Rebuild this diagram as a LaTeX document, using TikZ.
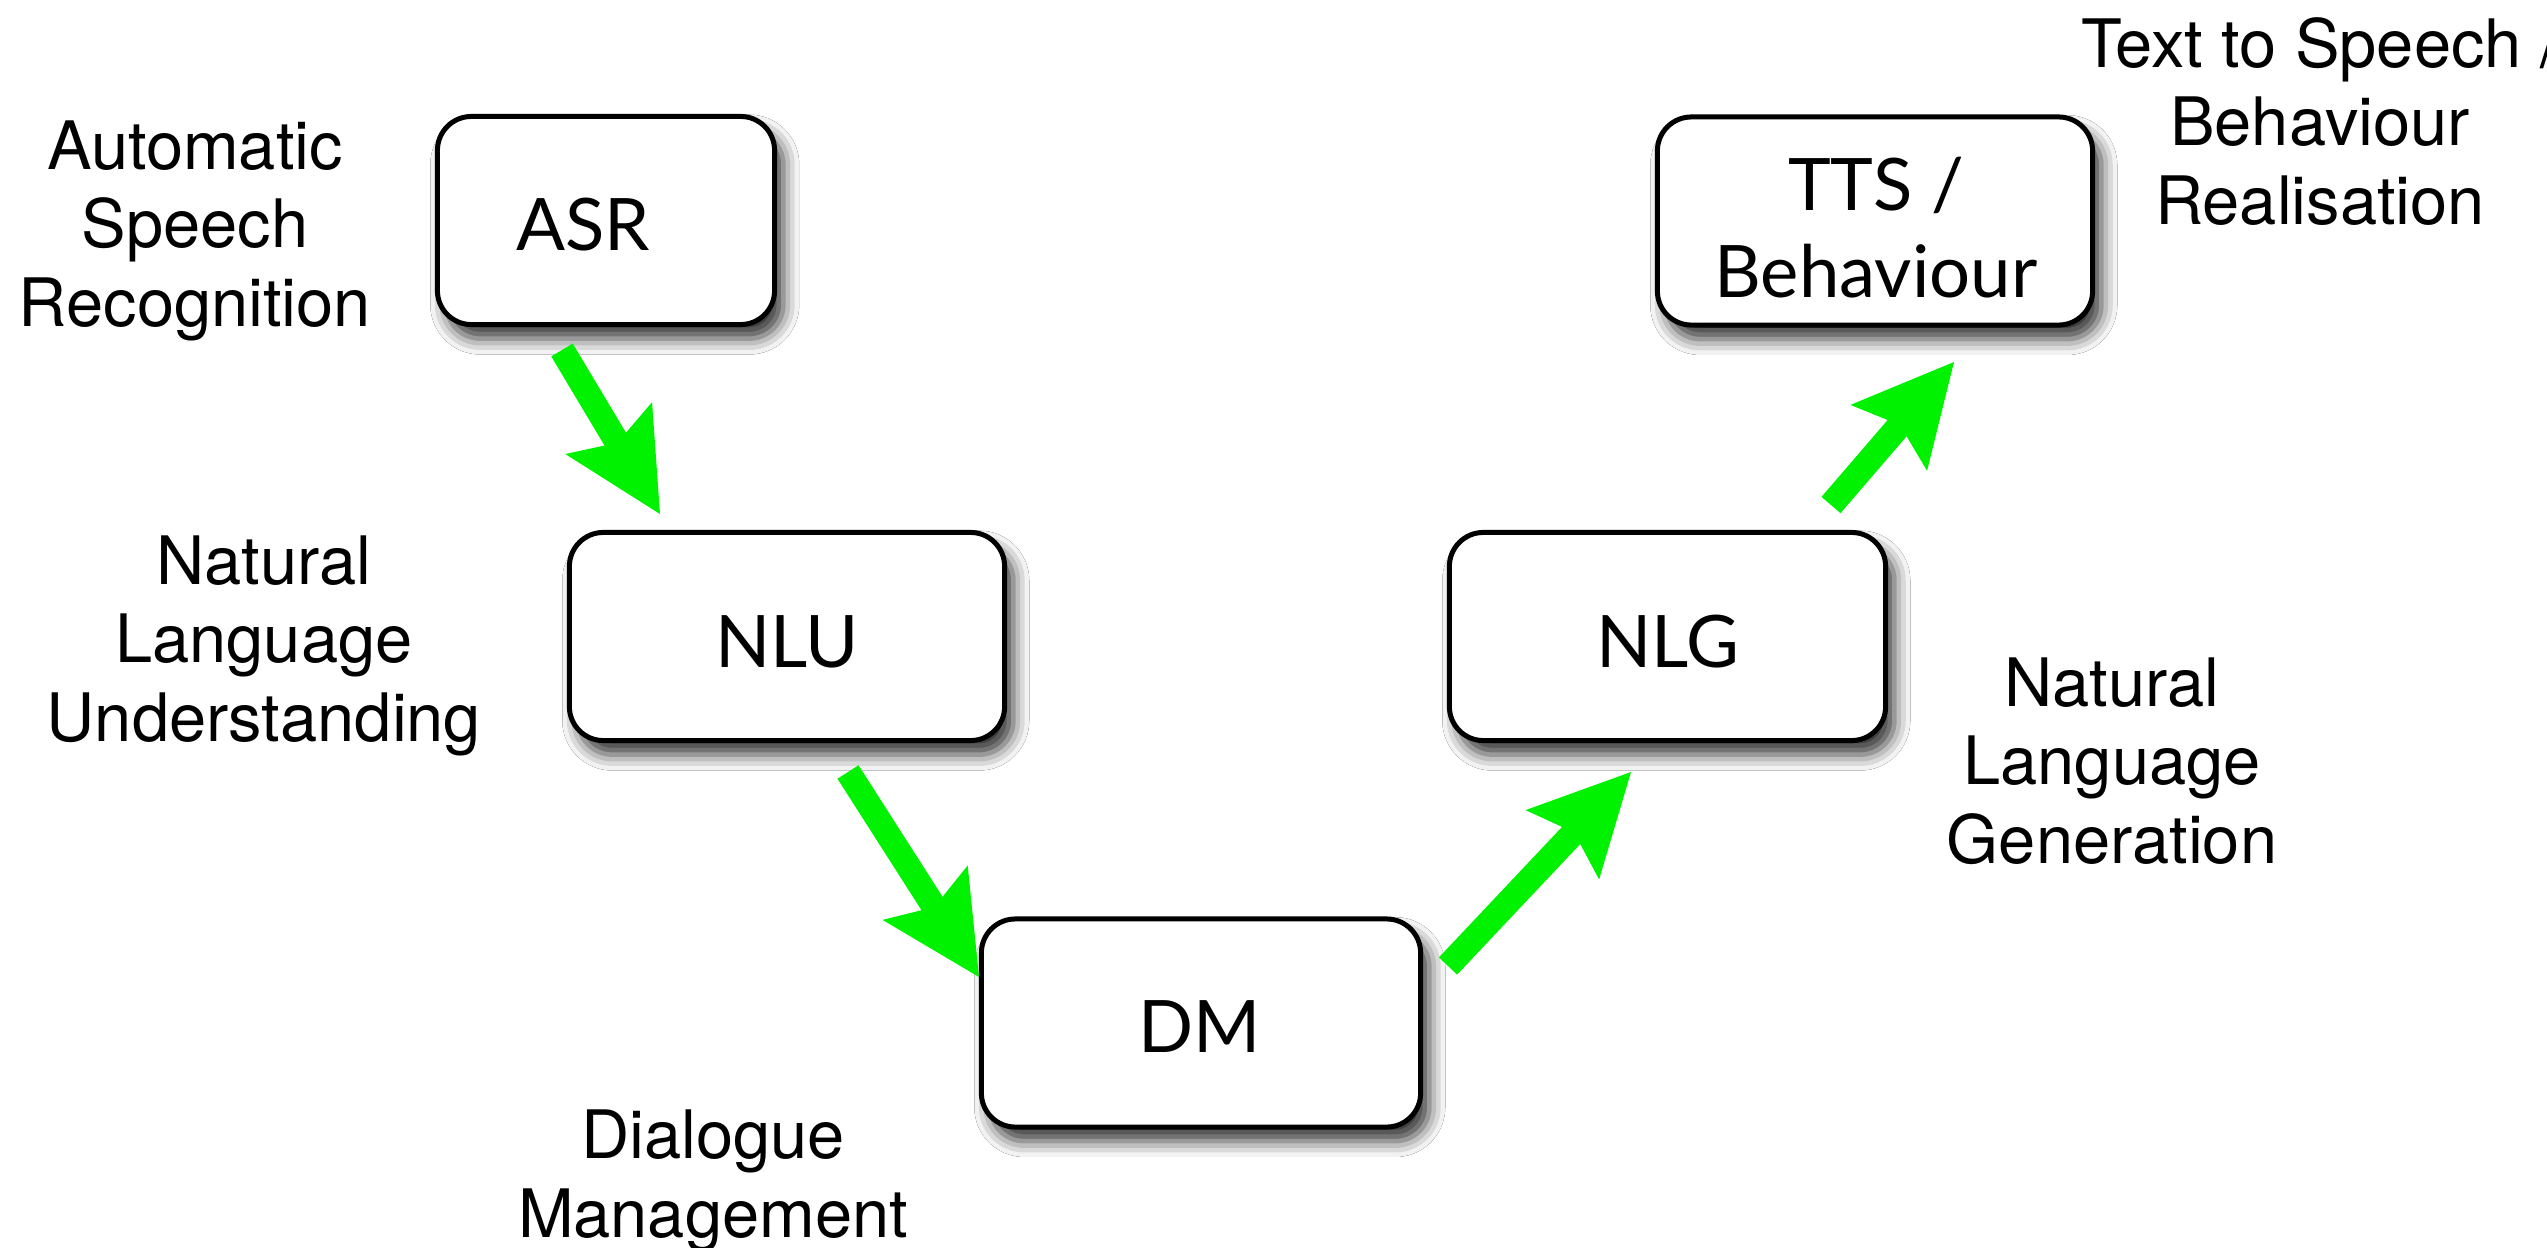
\documentclass[tikz,border=0pt]{standalone}
\usepackage{fontspec}
\setmainfont{TeX Gyre Heros}
\newfontfamily\boxfont{Lato}
\usetikzlibrary{arrows.meta,shadows.blur}
\definecolor{flowgreen}{RGB}{0,242,0}
\begin{document}
\begin{tikzpicture}[x=0.01cm,y=-0.01cm,
  stage/.style={draw=black, line width=0.05cm, fill=white, rounded corners=0.34cm,
    inner sep=0pt, minimum height=2.08cm,
    blur shadow={shadow xshift=2.5pt, shadow yshift=-4pt, shadow blur radius=4.5pt, shadow opacity=80}},
  stagetext/.style={font=\boxfont\fontsize{20.6}{24.5}\selectfont, anchor=base, align=center, inner sep=0pt},
  caption/.style={font=\fontsize{19}{22.2}\selectfont, anchor=base, align=center, inner sep=0pt},
  flow/.style={draw=flowgreen, line width=0.25cm,
    -{Stealth[length=1cm,width=1.01cm,inset=0.17cm,line width'=0pt]}}
]
\fill[white] (0,0) rectangle (2547,1248);
\useasboundingbox (0,0) rectangle (2547,1248);

% processing stages
\node[stage, minimum width=3.37cm] (asr) at (606,220.5) {};
\node[stage, minimum width=4.35cm] (nlu) at (787,636.5) {};
\node[stage, minimum width=4.39cm] (dm)  at (1201,1023) {};
\node[stage, minimum width=4.36cm] (nlg) at (1667.5,636.5) {};
\node[stage, minimum width=4.35cm] (tts) at (1875,221) {};

% stage names (anchored on the baseline of the last line)
\node[stagetext] (asrt) at (583,250) {ASR};
\node[stagetext] (nlut) at (787,667) {NLU};
\node[stagetext] (dmt)  at (1200,1052) {DM};
\node[stagetext] (nlgt) at (1668,667) {NLG};
\node[stagetext] (ttst) at (1876,297) {TTS /\\Behaviour};

% descriptions
\node[caption] (asrc) at (195,326) {Automatic\\Speech\\Recognition};
\node[caption] (nluc) at (264,741) {Natural\\Language\\Understanding};
\node[caption] (dmc)  at (713,1237) {Dialogue\\Management};
\node[caption] (nlgc) at (2112,863) {Natural\\Language\\Generation};
\node[caption] (ttsc) at (2320,224) {Text to Speech /\\Behaviour\\Realisation};

% arrow ends
\coordinate (a1s) at (562,350);  \coordinate (a1e) at (660,514);
\coordinate (a2s) at (848,772);  \coordinate (a2e) at (979,977);
\coordinate (a3s) at (1448,966); \coordinate (a3e) at (1631,772);
\coordinate (a4s) at (1831,505); \coordinate (a4e) at (1954,362);

\draw[flow] (a1s) -- (a1e);
\draw[flow] (a2s) -- (a2e);
\draw[flow] (a3s) -- (a3e);
\draw[flow] (a4s) -- (a4e);
\end{tikzpicture}
\end{document}
